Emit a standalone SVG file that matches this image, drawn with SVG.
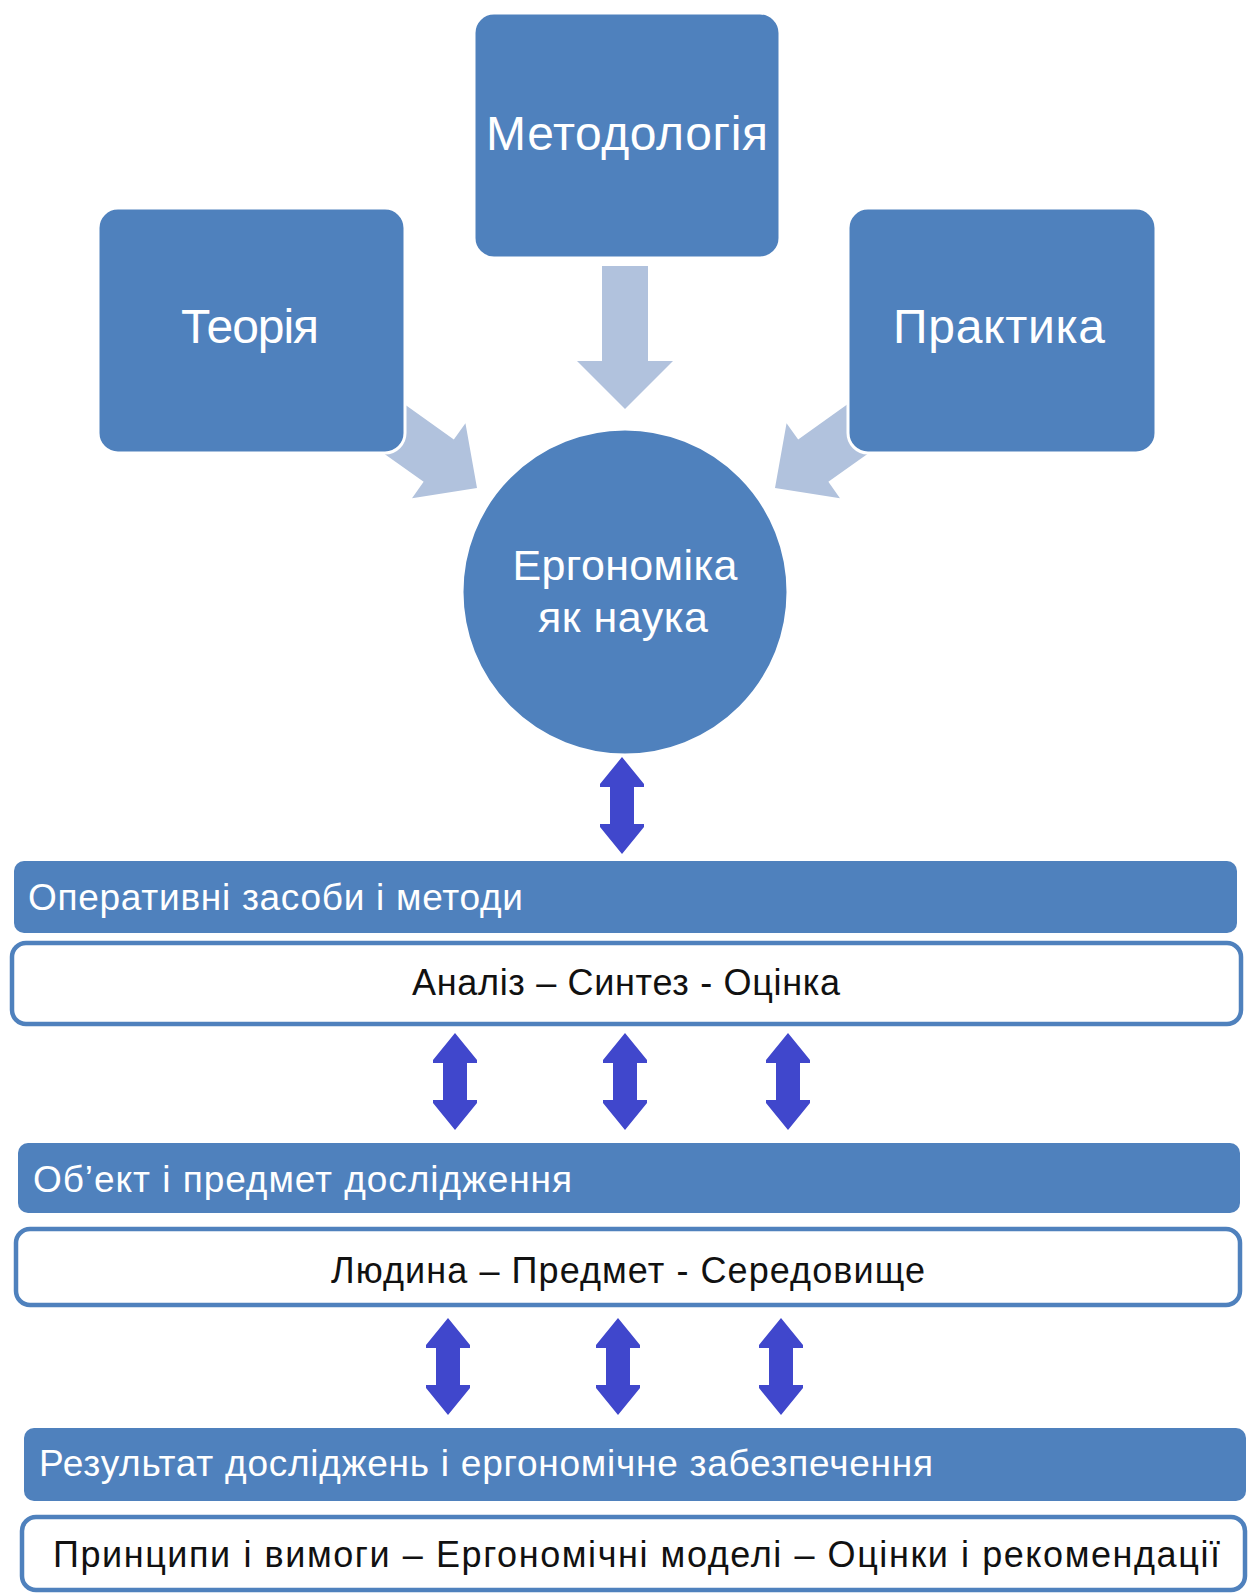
<svg xmlns="http://www.w3.org/2000/svg" width="1251" height="1593" viewBox="0 0 1251 1593">
<defs>
<style>
.node{fill:#4F81BD;stroke:#FFFFFF;stroke-width:3}
.bar{fill:#4F81BD;stroke:none}
.box{fill:#FFFFFF;stroke:#4F81BD;stroke-width:4.5}
.big{font-family:"Liberation Sans",Arial,sans-serif;font-size:48px;fill:#FFFFFF;text-anchor:middle}
.mid{font-family:"Liberation Sans",Arial,sans-serif;font-size:43px;fill:#FFFFFF;text-anchor:middle}
.bt{font-family:"Liberation Sans",Arial,sans-serif;font-size:37px;fill:#FFFFFF}
.wt{font-family:"Liberation Sans",Arial,sans-serif;font-size:36px;fill:#111111}
.la{fill:#B1C2DD}
.da{fill:#4047CC}
</style>
<path id="dbl" d="M0,0 L22,27 L22,30 L12,30 L12,67 L22,67 L22,70 L0,97 L-22,70 L-22,67 L-12,67 L-12,30 L-22,30 L-22,27 Z"/>
</defs>
<rect width="1251" height="1593" fill="#FFFFFF"/>
<g id="connectors">
<path class="la" transform="translate(625,409)" d="M0,0 L-48,-48 L-23,-48 L-23,-143 L23,-143 L23,-48 L48,-48 Z"/>
<path class="la" transform="translate(477,488) rotate(35.5)" d="M0,0 L-47,-46 L-47,-26 L-108,-26 L-108,26 L-47,26 L-47,46 Z"/>
<path class="la" transform="translate(775,488) rotate(144.5)" d="M0,0 L-47,-46 L-47,-26 L-108,-26 L-108,26 L-47,26 L-47,46 Z"/>
<use href="#dbl" class="da" x="622" y="757"/>
<use href="#dbl" class="da" x="455" y="1033"/>
<use href="#dbl" class="da" x="625" y="1033"/>
<use href="#dbl" class="da" x="788" y="1033"/>
<use href="#dbl" class="da" x="448" y="1318"/>
<use href="#dbl" class="da" x="618" y="1318"/>
<use href="#dbl" class="da" x="781" y="1318"/>
</g>
<g id="n-metodolohiia">
<rect class="node" x="474" y="13" width="306" height="245" rx="20"/>
<text class="big" x="627" y="150" textLength="282" lengthAdjust="spacing">Методологія</text>
</g>
<g id="n-teoriia">
<rect class="node" x="98" y="208" width="307" height="245" rx="20"/>
<text class="big" x="250" y="343" textLength="138" lengthAdjust="spacing">Теорія</text>
</g>
<g id="n-praktyka">
<rect class="node" x="848" y="208" width="308" height="245" rx="20"/>
<text class="big" x="999" y="343" textLength="212" lengthAdjust="spacing">Практика</text>
</g>
<g id="n-erhonomika">
<circle class="node" cx="625" cy="592" r="163"/>
<text class="mid" x="625" y="580" textLength="225" lengthAdjust="spacing">Ергономіка</text>
<text class="mid" x="623" y="632" textLength="170" lengthAdjust="spacing">як наука</text>
</g>
<g id="n-operatyvni">
<rect class="bar" x="14" y="861" width="1223" height="72" rx="10"/>
<text class="bt" x="28" y="910" textLength="495" lengthAdjust="spacing">Оперативні засоби і методи</text>
</g>
<g id="n-analiz">
<rect class="box" x="12" y="943" width="1229" height="81" rx="14"/>
<text class="wt" x="412" y="995" textLength="428" lengthAdjust="spacing">Аналіз – Синтез - Оцінка</text>
</g>
<g id="n-obiekt">
<rect class="bar" x="18" y="1143" width="1222" height="70" rx="10"/>
<text class="bt" x="33" y="1192" textLength="539" lengthAdjust="spacing">Об’ект і предмет дослідження</text>
</g>
<g id="n-liudyna">
<rect class="box" x="16" y="1229" width="1224" height="76" rx="14"/>
<text class="wt" x="331" y="1283" textLength="594" lengthAdjust="spacing">Людина – Предмет - Середовище</text>
</g>
<g id="n-rezultat">
<rect class="bar" x="24" y="1428" width="1222" height="73" rx="10"/>
<text class="bt" x="39" y="1476" textLength="894" lengthAdjust="spacing">Результат досліджень і ергономічне забезпечення</text>
</g>
<g id="n-pryntsypy">
<rect class="box" x="22" y="1517" width="1223" height="73" rx="14"/>
<text class="wt" x="53" y="1567" textLength="1167" lengthAdjust="spacing">Принципи і вимоги – Ергономічні моделі – Оцінки і рекомендації</text>
</g>
</svg>
